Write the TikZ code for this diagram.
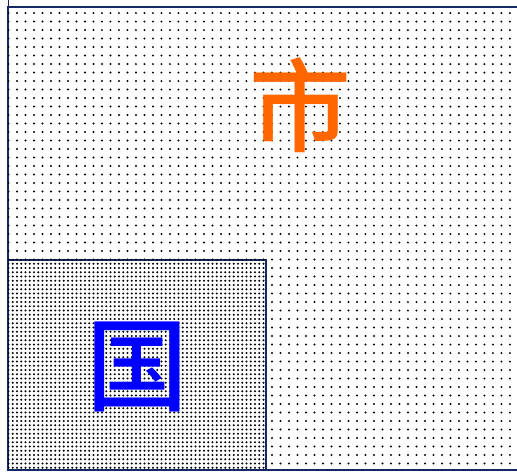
\documentclass[tikz,border=0pt]{standalone}
\usepackage{fontspec}
\newfontfamily\cjk{Noto Sans CJK SC Medium}
\usetikzlibrary{patterns.meta}
\definecolor{marco}{RGB}{20,40,100}
\definecolor{naranja}{RGB}{255,102,0}

\begin{document}
\begin{tikzpicture}[
  x=0.02cm, y=-0.02cm,
  borde/.style={draw=marco, line width=1.2pt},
  ralo/.style={pattern={Dots[distance=0.17cm, radius=0.022cm]}},
  denso/.style={pattern={Dots[distance=0.085cm, radius=0.024cm]}},
  letra/.style={font=\cjk\fontsize{58}{58}\selectfont, inner sep=0pt}
]
  \useasboundingbox (0,0) rectangle (517,472);

  % Regiones
  \draw[marco, line width=0.5pt] (8,0) -- (8,7);
  \draw[borde, postaction={ralo}] (8,7) rectangle (540,470);
  \draw[borde, fill=white, postaction={denso}] (8,260) rectangle (266,470);

  % Etiquetas
  \node[letra, text=naranja] (shi) at (300,105) {市};
  \node[letra, text=blue] (guo) at (137,367) {国};
\end{tikzpicture}
\end{document}
